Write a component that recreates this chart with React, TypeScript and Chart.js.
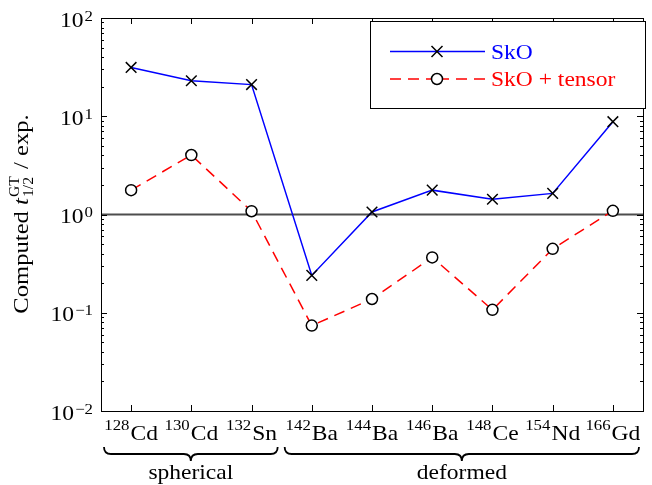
import React, { useEffect, useRef } from "react";
import { Chart, registerables } from "chart.js";

Chart.register(...registerables);

const massNumbers = ["128", "130", "132", "142", "144", "146", "148", "154", "166"];
const elements = ["Cd", "Cd", "Sn", "Ba", "Ba", "Ba", "Ce", "Nd", "Gd"];
const categories = massNumbers.map((m, i) => m + elements[i]);
const skoValues = [31.4, 23.0, 21.0, 0.24, 1.06, 1.77, 1.43, 1.64, 8.8];
const tensorValues = [1.77, 4.03, 1.08, 0.074, 0.138, 0.366, 0.107, 0.447, 1.09];
const seriesNames = ["SkO", "SkO + tensor"];
const decadeExponents = [-2, -1, 0, 1, 2];
const groups = [
  { name: "spherical", from: 0, to: 2 },
  { name: "deformed", from: 3, to: 8 },
];

const FONT = '"Liberation Serif", "Times New Roman", serif';
const SX = 1.12; // horizontal stretch to mimic wider Computer Modern glyphs
const MAIN = 21;
const SUP = 15;

function textW(ctx: any, t: string, font: string) {
  ctx.font = font;
  return ctx.measureText(t).width * SX;
}
function drawT(ctx: any, t: string, x: number, y: number, font: string) {
  ctx.save();
  ctx.font = font;
  ctx.textAlign = "left";
  ctx.translate(x, y);
  ctx.scale(SX, 1);
  ctx.fillText(t, 0, 0);
  ctx.restore();
}

const decorPlugin = {
  id: "decor",
  beforeDatasetsDraw(chart: any) {
    const { ctx, chartArea, scales } = chart;
    const y = scales.y.getPixelForValue(1);
    ctx.save();
    ctx.strokeStyle = "#4d4d4d";
    ctx.lineWidth = 1.8;
    ctx.beginPath();
    ctx.moveTo(chartArea.left, y);
    ctx.lineTo(chartArea.right, y);
    ctx.stroke();
    ctx.restore();
  },
  afterDraw(chart: any) {
    const { ctx, chartArea: a, scales } = chart;
    const xs = scales.x;
    const ys = scales.y;
    const fMain = `${MAIN}px ${FONT}`;
    const fSup = `${SUP}px ${FONT}`;
    ctx.save();
    ctx.textBaseline = "alphabetic";
    // frame
    ctx.strokeStyle = "#000";
    ctx.lineWidth = 1;
    ctx.strokeRect(Math.round(a.left) + 0.5, Math.round(a.top) + 0.5, Math.round(a.right - a.left), Math.round(a.bottom - a.top));

    // ticks
    ctx.beginPath();
    categories.forEach((_, i) => {
      const px = Math.round(xs.getPixelForValue(i)) + 0.5;
      ctx.moveTo(px, a.bottom);
      ctx.lineTo(px, a.bottom - 6);
      ctx.moveTo(px, a.top);
      ctx.lineTo(px, a.top + 6);
    });
    for (let k = -2; k <= 2; k++) {
      for (let m = 1; m <= 9; m++) {
        const v = m * Math.pow(10, k);
        if (v > 100.0001) continue;
        const py = Math.round(ys.getPixelForValue(v)) + 0.5;
        const len = m === 1 ? 6 : 3;
        ctx.moveTo(a.left, py);
        ctx.lineTo(a.left + len, py);
        ctx.moveTo(a.right, py);
        ctx.lineTo(a.right - len, py);
      }
    }
    ctx.stroke();

    // y tick labels
    ctx.fillStyle = "#000";
    decadeExponents.forEach((e) => {
      const py = ys.getPixelForValue(Math.pow(10, e));
      const sup = String(e).replace("-", "\u2212");
      const ws = textW(ctx, sup, fSup);
      const wb = textW(ctx, "10", fMain);
      const right = a.left - 8;
      drawT(ctx, "10", right - ws - wb - 1, py + 8.5, fMain);
      drawT(ctx, sup, right - ws, py + 2.5, fSup);
    });

    // x tick labels
    categories.forEach((_, i) => {
      const px = xs.getPixelForValue(i);
      const wm = textW(ctx, massNumbers[i], fSup);
      const we = textW(ctx, elements[i], fMain);
      const x0 = px - (wm + we + 1) / 2;
      drawT(ctx, massNumbers[i], x0, 430, fSup);
      drawT(ctx, elements[i], x0 + wm + 1, 440, fMain);
    });

    // braces and group labels
    const half = (xs.getPixelForValue(1) - xs.getPixelForValue(0)) / 2;
    groups.forEach((g) => {
      const x0 = xs.getPixelForValue(g.from) - half + 3;
      const x1 = xs.getPixelForValue(g.to) + half - 4;
      const mid = (x0 + x1) / 2;
      const yt = 447;
      const q = 7;
      ctx.beginPath();
      ctx.lineWidth = 1.8;
      ctx.moveTo(x0, yt);
      ctx.quadraticCurveTo(x0, yt + q, x0 + q, yt + q);
      ctx.lineTo(mid - q, yt + q);
      ctx.quadraticCurveTo(mid, yt + q, mid, yt + 2 * q);
      ctx.quadraticCurveTo(mid, yt + q, mid + q, yt + q);
      ctx.lineTo(x1 - q, yt + q);
      ctx.quadraticCurveTo(x1, yt + q, x1, yt);
      ctx.stroke();
      const w = textW(ctx, g.name, fMain);
      drawT(ctx, g.name, mid - w / 2, 479, fMain);
    });

    // y axis title
    ctx.save();
    ctx.translate(28, 214);
    ctx.rotate(-Math.PI / 2);
    const p1 = "Computed ";
    const p3 = " / exp.";
    const fT = `22px ${FONT}`;
    const fTi = `italic 22px ${FONT}`;
    const fS = `14px ${FONT}`;
    const w1 = textW(ctx, p1, fT);
    const w3 = textW(ctx, p3, fT);
    const wt = textW(ctx, "t", fTi);
    const wss = Math.max(textW(ctx, "GT", fS), textW(ctx, "1/2", fS)) + 2;
    const total = w1 + wt + wss + w3;
    let cx = -total / 2;
    drawT(ctx, p1, cx, 0, fT);
    cx += w1;
    drawT(ctx, "t", cx, 0, fTi);
    cx += wt + 1;
    drawT(ctx, "GT", cx, -9, fS);
    drawT(ctx, "1/2", cx, 5, fS);
    cx += wss - 1;
    drawT(ctx, p3, cx, 0, fT);
    ctx.restore();

    // legend
    const lx = 370.5, ly = 21.5, lw = 275, lh = 87;
    ctx.fillStyle = "#fff";
    ctx.fillRect(lx, ly, lw, lh);
    ctx.strokeStyle = "#000";
    ctx.lineWidth = 1;
    ctx.strokeRect(lx, ly, lw, lh);
    const rows = [
      { y: 51.5, color: "#0000ff", dash: [] as number[], marker: "cross", name: seriesNames[0] },
      { y: 79, color: "#ff0000", dash: [11, 7], marker: "circle", name: seriesNames[1] },
    ];
    rows.forEach((r) => {
      ctx.strokeStyle = r.color;
      ctx.lineWidth = 1.5;
      ctx.setLineDash(r.dash);
      ctx.beginPath();
      if (r.dash.length) {
        ctx.moveTo(390, r.y);
        ctx.lineTo(431, r.y);
        ctx.moveTo(485, r.y);
        ctx.lineTo(443, r.y);
      } else {
        ctx.moveTo(390, r.y);
        ctx.lineTo(485, r.y);
      }
      ctx.stroke();
      ctx.setLineDash([]);
      ctx.strokeStyle = "#000";
      ctx.lineWidth = 1.5;
      ctx.beginPath();
      if (r.marker === "cross") {
        const d = 5.5;
        ctx.moveTo(437 - d, r.y - d);
        ctx.lineTo(437 + d, r.y + d);
        ctx.moveTo(437 - d, r.y + d);
        ctx.lineTo(437 + d, r.y - d);
        ctx.stroke();
      } else {
        ctx.arc(437, r.y, 5.5, 0, Math.PI * 2);
        ctx.fillStyle = "#fff";
        ctx.fill();
        ctx.stroke();
      }
      ctx.fillStyle = r.color;
      drawT(ctx, r.name, 491, r.y + 7, fMain);
    });
    ctx.restore();
  },
};

export default function App() {
  const ref = useRef<HTMLCanvasElement | null>(null);
  useEffect(() => {
    if (!ref.current) return;
    const chart = new Chart(ref.current, {
      type: "line",
      data: {
        labels: categories,
        datasets: [
          {
            label: seriesNames[0],
            data: skoValues,
            borderColor: "#0000ff",
            borderWidth: 1.5,
            pointStyle: "crossRot",
            pointRadius: 7.5,
            pointBorderColor: "#000",
            pointBackgroundColor: "#000",
            pointBorderWidth: 1.5,
            tension: 0,
          },
          {
            label: seriesNames[1],
            data: tensorValues,
            borderColor: "#ff0000",
            borderWidth: 1.5,
            borderDash: [11, 7],
            pointStyle: "circle",
            pointRadius: 5.5,
            pointBorderColor: "#000",
            pointBackgroundColor: "#fff",
            pointBorderWidth: 1.5,
            tension: 0,
          },
        ],
      },
      options: {
        responsive: false,
        animation: false,
        devicePixelRatio: 1,
        layout: { padding: { top: 18, right: 5, left: 0, bottom: 0 } },
        plugins: { legend: { display: false }, tooltip: { enabled: false } },
        scales: {
          x: {
            type: "category",
            offset: true,
            grid: { display: false },
            border: { display: false },
            ticks: { display: false },
            afterFit: (s: any) => { s.height = 74; },
          },
          y: {
            type: "logarithmic",
            min: 0.01,
            max: 100,
            grid: { display: false },
            border: { display: false },
            ticks: { display: false },
            afterFit: (s: any) => { s.width = 101; },
          },
        },
      },
      plugins: [decorPlugin],
    } as any);
    return () => chart.destroy();
  }, []);
  return (
    <div style={{ position: "fixed", left: 0, top: 0, width: 652, height: 485, background: "#fff" }}>
      <canvas ref={ref} width={652} height={485} style={{ display: "block" }} />
    </div>
  );
}
